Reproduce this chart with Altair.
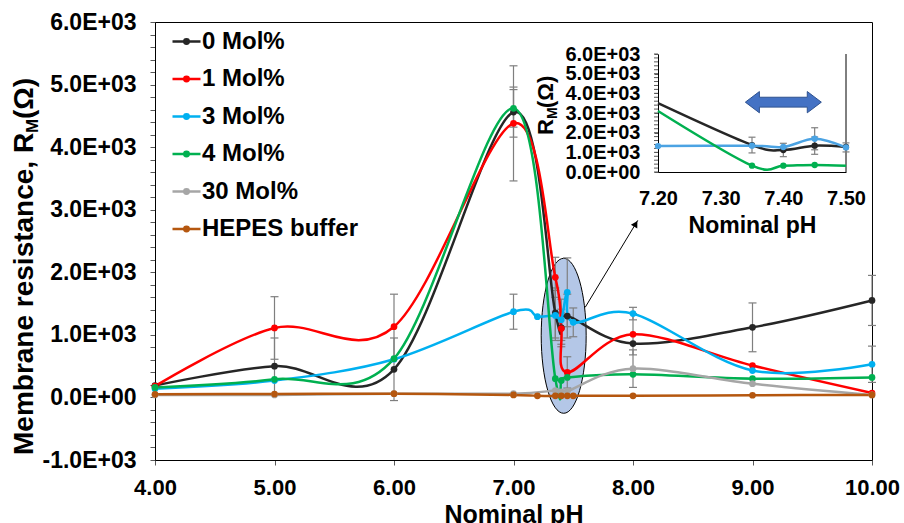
import altair as alt
import pandas as pd

FONT = "Liberation Sans"

# ---------------- main chart data: membrane resistance (ohm) vs nominal pH ----------------
series_names = ["0 Mol%", "1 Mol%", "3 Mol%", "4 Mol%", "30 Mol%", "HEPES buffer"]
series_colors = ["#262626", "#ff0000", "#00b0f0", "#00b050", "#a6a6a6", "#b5570f"]

ph_std = [4.0, 5.0, 6.0, 7.0, 7.35, 7.40, 7.45, 8.0, 9.0, 10.0]
ph_ext = [4.0, 5.0, 6.0, 7.0, 7.20, 7.35, 7.40, 7.45, 7.50, 8.0, 9.0, 10.0]

r_0mol = [190, 500, 450, 4560, 1350, 1110, 1300, 860, 1120, 1550]
r_1mol = [180, 1110, 1130, 4380, 1920, 1100, 400, 1010, 510, 70]
r_3mol = [140, 270, 610, 1370, 1290, 1310, 1240, 1680, 1200, 1340, 430, 530]
r_4mol = [160, 290, 620, 4620, 300, 270, 320, 370, 300, 320]
r_30mol = [40, 40, 60, 60, 110, 90, 100, 460, 220, 40]
r_hepes = [50, 55, 60, 40, 25, 25, 25, 25, 25, 25, 35, 40]

# standard deviations (0 = no bar drawn)
e_0mol = [0, 450, 500, 400, 400, 300, 350, 0, 390, 400]
e_1mol = [0, 500, 520, 920, 320, 250, 250, 330, 0, 0]
e_3mol = [0, 0, 0, 280, 0, 400, 330, 550, 230, 100, 0, 290]
e_4mol = [0, 0, 0, 300, 0, 0, 0, 0, 0, 0]
e_30mol = [0, 0, 0, 0, 0, 0, 0, 300, 0, 0]
e_hepes = [0, 0, 0, 0, 0, 0, 0, 0, 0, 0, 0, 0]

# ---------------- inset data: zoom on pH 7.20 - 7.50 ----------------
inset_names = ["0 Mol%", "3 Mol%", "4 Mol%"]
inset_colors = ["#262626", "#4ba3e3", "#00b050"]
ph_inset = [7.20, 7.35, 7.40, 7.45, 7.50]
in_0mol = [3500, 1370, 1120, 1340, 1270]
in_3mol = [1320, 1340, 1270, 1690, 1250]
in_4mol = [3100, 320, 320, 355, 320]
in_e_0mol = [0, 400, 340, 440, 0]
in_e_3mol = [0, 0, 0, 560, 230]
in_e_4mol = [0, 0, 0, 0, 0]
# points where the curve only enters/leaves the zoom window (no marker)
inset_edge_only = {("0 Mol%", 7.20), ("4 Mol%", 7.20), ("4 Mol%", 7.50)}
inset_minor_ticks = list(range(0, 6001, 200))


def long_table(names, ph_lists, val_lists, err_lists, colors=None):
    rows = []
    for i, (n, phs, vals, errs) in enumerate(zip(names, ph_lists, val_lists, err_lists)):
        for p, v, e in zip(phs, vals, errs):
            row = {"series": n, "pH": p, "R": v, "err": e, "lo": v - e, "hi": v + e}
            if colors:
                row["col"] = colors[i]
            rows.append(row)
    return pd.DataFrame(rows)


main_df = long_table(
    series_names,
    [ph_std, ph_std, ph_ext, ph_std, ph_std, ph_ext],
    [r_0mol, r_1mol, r_3mol, r_4mol, r_30mol, r_hepes],
    [e_0mol, e_1mol, e_3mol, e_4mol, e_30mol, e_hepes],
)
main_err = main_df[main_df["err"] > 0]

inset_df = long_table(
    inset_names,
    [ph_inset] * 3,
    [in_0mol, in_3mol, in_4mol],
    [in_e_0mol, in_e_3mol, in_e_4mol],
    inset_colors,
)
inset_pts = inset_df[[(s, p) not in inset_edge_only for s, p in zip(inset_df["series"], inset_df["pH"])]]
inset_err = inset_df[inset_df["err"] > 0]

# ---------------- geometry ----------------
W, H = 717, 438
ERR_GREY = "#7f7f7f"
CURVE = "cardinal"

y_label_expr = (
    "datum.value % 1000 == 0 ? (datum.value == 0 ? '0.0E+00' : "
    "(datum.value < 0 ? '-' : '') + format(abs(datum.value) / 1000, '.1f') + 'E+03') : ''"
)

x_scale = alt.Scale(domain=[4, 10], nice=False, zero=False)
y_scale = alt.Scale(domain=[-1000, 6000], nice=False, zero=False)
x_axis = alt.Axis(
    values=[4, 5, 6, 7, 8, 9, 10], format=".2f", title="Nominal pH",
    labelFontSize=22, labelPadding=12, labelFlush=False, labelOverlap=False,
    tickSize=5, titleFontSize=25, titleBaseline="alphabetic", titleY=62,
)
y_axis = alt.Axis(
    values=list(range(-1000, 6001, 200)), labelExpr=y_label_expr, title=None,
    labelFontSize=23, labelPadding=14, tickSize=5, labelOverlap=False,
)


def mx(field="pH"):
    return alt.X(f"{field}:Q", scale=x_scale, axis=x_axis)


def my(field="R"):
    return alt.Y(f"{field}:Q", scale=y_scale, axis=y_axis)


color_main = alt.Color(
    "series:N",
    scale=alt.Scale(domain=series_names, range=series_colors),
    legend=alt.Legend(
        orient="none", legendX=16, legendY=4, title=None,
        labelFontSize=24, labelFontWeight="bold", labelColor="#000", labelOffset=0,
        symbolType="M-1,0L1,0M-0.16,0A0.16,0.16,0,1,0,0.16,0A0.16,0.16,0,1,0,-0.16,0Z",
        symbolSize=784, symbolStrokeWidth=2.5, rowPadding=9.5,
    ),
    sort=series_names,
)

# highlight ellipse around the pH 7.2 - 7.5 cluster
ellipse_df = pd.DataFrame({"pH": [7.42], "R": [985]})
ellipse = alt.Chart(ellipse_df).mark_point(
    shape="M0,-1A0.29,1,0,1,1,0,1A0.29,1,0,1,1,0,-1Z",
    size=24025, filled=True, fill="#b4c7e7", stroke="#000", strokeWidth=1, opacity=1,
).encode(x=mx(), y=my())

err_rule = alt.Chart(main_err).mark_rule(color=ERR_GREY, strokeWidth=1.2).encode(
    x=mx(), y=my("lo"), y2="hi:Q"
)
err_cap_lo = alt.Chart(main_err).mark_point(
    shape="stroke", size=64, color=ERR_GREY, strokeWidth=1.2, opacity=1, filled=False
).encode(x=mx(), y=my("lo"))
err_cap_hi = alt.Chart(main_err).mark_point(
    shape="stroke", size=64, color=ERR_GREY, strokeWidth=1.2, opacity=1, filled=False
).encode(x=mx(), y=my("hi"))

lines = alt.Chart(main_df).mark_line(interpolate=CURVE, strokeWidth=2.5).encode(
    x=mx(), y=my(), color=color_main, order="pH:Q"
)
dots = alt.Chart(main_df).mark_circle(size=45, opacity=1).encode(
    x=mx(), y=my(),
    color=alt.Color("series:N", scale=alt.Scale(domain=series_names, range=series_colors), legend=None),
)

# pointer arrow from the cluster to the inset
arrow_df = pd.DataFrame({"pH": [7.60], "R": [1440], "pH2": [8.04], "R2": [2830]})
arrow_line = alt.Chart(arrow_df).mark_rule(color="#000", strokeWidth=1).encode(
    x=mx(), y=my(), x2="pH2:Q", y2="R2:Q"
)
arrow_head_df = pd.DataFrame({"pH": [8.023], "R": [2775]})
arrow_head = alt.Chart(arrow_head_df).mark_point(
    shape="triangle-up", size=55, filled=True, color="#000", angle=31, opacity=1
).encode(x=mx(), y=my())

# y-axis title with subscript M
one = pd.DataFrame({"k": [0]})
ytitle_style = dict(angle=270, align="left", baseline="alphabetic", font=FONT, fontWeight="bold", color="#000")
yt1 = alt.Chart(one).mark_text(fontSize=28, **ytitle_style).encode(
    x=alt.value(-122), y=alt.value(433), text=alt.value("Membrane resistance, R"))
yt2 = alt.Chart(one).mark_text(fontSize=17, **ytitle_style).encode(
    x=alt.value(-117), y=alt.value(111), text=alt.value("M"))
yt3 = alt.Chart(one).mark_text(fontSize=28, **ytitle_style).encode(
    x=alt.value(-122), y=alt.value(97), text=alt.value("(Ω)"))

main_layer = alt.layer(
    ellipse, err_rule, err_cap_lo, err_cap_hi, lines, dots, arrow_line, arrow_head, yt1, yt2, yt3
)

# ---------------- inset ----------------
INSET_LEFT, INSET_BOTTOM = 503, 150
ix_scale = alt.Scale(domain=[7.2, 7.5], nice=False, zero=False, range=[INSET_LEFT, 691])
iy_scale = alt.Scale(domain=[0, 6000], nice=False, zero=False, range=[INSET_BOTTOM, 32])
ix_axis = alt.Axis(
    orient="bottom", offset=-(H - INSET_BOTTOM), values=[7.2, 7.3, 7.4, 7.5], format=".2f",
    ticks=False, labelFontSize=20, labelPadding=16, labelFlush=False, labelOverlap=False,
    title="Nominal pH", titleFontSize=23, titleBaseline="alphabetic", titleY=60,
)
iy_axis = alt.Axis(
    orient="left", offset=-INSET_LEFT, values=list(range(0, 6001, 1000)), labelExpr=y_label_expr,
    title=None, labelFontSize=20, labelPadding=14, tickSize=4, labelOverlap=False,
)


def ix(field="pH"):
    return alt.X(f"{field}:Q", scale=ix_scale, axis=ix_axis)


def iy(field="R"):
    return alt.Y(f"{field}:Q", scale=iy_scale, axis=iy_axis)


frame_df = pd.DataFrame({"pH": [7.5], "R": [0], "R2": [6000]})
inset_frame = alt.Chart(frame_df).mark_rule(color="#000", strokeWidth=1).encode(
    x=ix(), y=iy(), y2="R2:Q"
)
# minor ticks of the inset y axis (every 200 ohm)
minor_df = pd.DataFrame({"R": inset_minor_ticks})
inset_minor = alt.Chart(minor_df).mark_rule(color="#595959", strokeWidth=1).encode(
    x=alt.value(INSET_LEFT - 4), x2=alt.value(INSET_LEFT), y=iy()
)
in_err_rule = alt.Chart(inset_err).mark_rule(color=ERR_GREY, strokeWidth=1.2).encode(
    x=ix(), y=iy("lo"), y2="hi:Q"
)
in_cap_lo = alt.Chart(inset_err).mark_point(
    shape="stroke", size=49, color=ERR_GREY, strokeWidth=1.2, opacity=1, filled=False
).encode(x=ix(), y=iy("lo"))
in_cap_hi = alt.Chart(inset_err).mark_point(
    shape="stroke", size=49, color=ERR_GREY, strokeWidth=1.2, opacity=1, filled=False
).encode(x=ix(), y=iy("hi"))
in_lines = alt.Chart(inset_df).mark_line(interpolate=CURVE, strokeWidth=2.5).encode(
    x=ix(), y=iy(), color=alt.Color("col:N", scale=None), detail="series:N", order="pH:Q"
)
in_dots = alt.Chart(inset_pts).mark_circle(size=40, opacity=1).encode(
    x=ix(), y=iy(), color=alt.Color("col:N", scale=None)
)
dbl_df = pd.DataFrame({"pH": [7.40], "R": [3550]})
dbl_arrow = alt.Chart(dbl_df).mark_point(
    shape="M-1,0L-0.63,-0.28L-0.63,-0.13L0.63,-0.13L0.63,-0.28L1,0L0.63,0.28L0.63,0.13L-0.63,0.13L-0.63,0.28Z",
    size=5776, filled=True, fill="#4472c4", stroke="#2f528f", strokeWidth=1, opacity=1,
).encode(x=ix(), y=iy())

it1 = alt.Chart(one).mark_text(fontSize=22, **ytitle_style).encode(
    x=alt.value(398), y=alt.value(113), text=alt.value("R"))
it2 = alt.Chart(one).mark_text(fontSize=14, **ytitle_style).encode(
    x=alt.value(402), y=alt.value(97), text=alt.value("M"))
it3 = alt.Chart(one).mark_text(fontSize=22, **ytitle_style).encode(
    x=alt.value(398), y=alt.value(86), text=alt.value("(Ω)"))

inset_layer = alt.layer(
    inset_frame, inset_minor, in_err_rule, in_cap_lo, in_cap_hi, in_lines, in_dots, dbl_arrow,
    it1, it2, it3
)

chart = (
    alt.layer(main_layer, inset_layer)
    .resolve_scale(x="independent", y="independent")
    .properties(
        width=W, height=H,
        autosize=alt.AutoSizeParams(type="none"),
        padding={"left": 155, "top": 22, "right": 32, "bottom": 63},
        background="#ffffff",
    )
    .configure(font=FONT)
    .configure_view(stroke="#000", strokeWidth=1)
    .configure_axis(
        grid=False, labelFont=FONT, labelFontWeight="bold", labelColor="#000",
        titleFont=FONT, titleFontWeight="bold", titleColor="#000",
        domainColor="#000", domainWidth=1, tickColor="#595959", tickWidth=1,
    )
    .configure_legend(labelFont=FONT)
)

chart.save("out.html", embed_options={"renderer": "svg", "actions": False})
